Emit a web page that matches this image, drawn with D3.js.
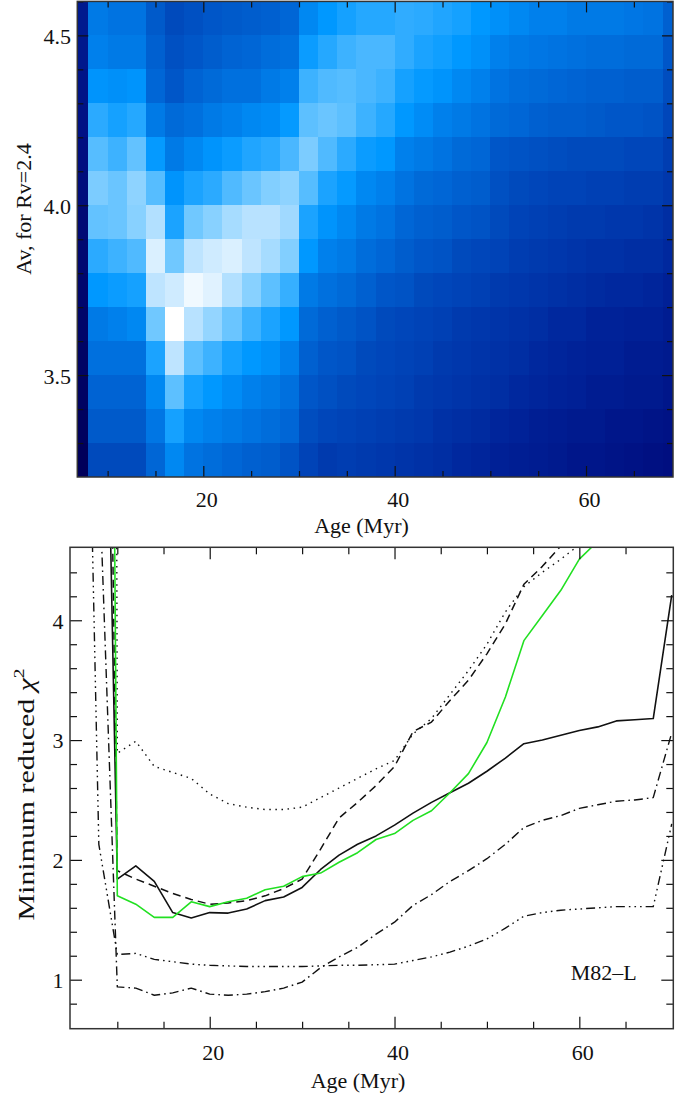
<!DOCTYPE html>
<html><head><meta charset="utf-8">
<script src="https://cdn.jsdelivr.net/npm/d3@7/dist/d3.min.js"></script>
<style>
body{margin:0;background:#fff}
svg{display:block}
text{font-family:"Liberation Serif","Times New Roman",serif;fill:#111}
</style>
</head><body>
<svg id="chart" width="684" height="1099"></svg>
<script>
// ---------------- DATA ----------------
// Top panel: age bin edges (Myr) and Av bin edges (top to bottom)
const heatAgeEdges = [6.83, 8, 10, 12, 14, 16, 18, 20, 22, 24, 26, 28, 30, 32, 34, 36, 38, 40,
  42, 44, 46, 48, 50, 52, 54, 56, 58, 60, 62, 64, 66, 68, 69.09];
const avEdges = [4.6, 4.5, 4.4, 4.3, 4.2, 4.1, 4.0, 3.9, 3.8, 3.7, 3.6, 3.5, 3.4, 3.3, 3.2];
// relative likelihood (0 = dark, 1 = white); one row per Av bin, top row first
const heatValues = [
  [0.16,0.48,0.46,0.46,0.38,0.33,0.35,0.37,0.38,0.39,0.40,0.42,0.52,0.56,0.60,0.63,0.63,0.65,0.64,0.62,0.60,0.56,0.54,0.52,0.50,0.50,0.48,0.48,0.48,0.47,0.46,0.40],
  [0.15,0.50,0.48,0.48,0.40,0.35,0.37,0.39,0.41,0.42,0.44,0.45,0.58,0.63,0.67,0.69,0.69,0.65,0.61,0.59,0.56,0.54,0.50,0.48,0.47,0.46,0.45,0.44,0.44,0.43,0.43,0.37],
  [0.13,0.55,0.54,0.55,0.42,0.37,0.41,0.43,0.45,0.45,0.48,0.50,0.67,0.70,0.71,0.69,0.67,0.60,0.57,0.55,0.52,0.50,0.46,0.44,0.43,0.42,0.41,0.40,0.40,0.39,0.39,0.34],
  [0.12,0.64,0.60,0.63,0.48,0.43,0.45,0.48,0.50,0.52,0.53,0.57,0.72,0.74,0.72,0.67,0.63,0.56,0.53,0.50,0.48,0.46,0.43,0.42,0.40,0.39,0.39,0.38,0.37,0.37,0.36,0.32],
  [0.10,0.71,0.67,0.73,0.57,0.48,0.52,0.55,0.58,0.62,0.64,0.69,0.77,0.70,0.64,0.58,0.56,0.50,0.48,0.46,0.43,0.42,0.37,0.36,0.35,0.34,0.33,0.33,0.33,0.32,0.32,0.29],
  [0.09,0.77,0.74,0.80,0.71,0.55,0.61,0.64,0.70,0.74,0.78,0.80,0.71,0.61,0.57,0.52,0.50,0.46,0.43,0.42,0.40,0.39,0.35,0.33,0.32,0.31,0.31,0.30,0.30,0.29,0.29,0.27],
  [0.07,0.73,0.74,0.79,0.86,0.61,0.75,0.79,0.84,0.87,0.87,0.83,0.61,0.55,0.52,0.48,0.46,0.42,0.40,0.39,0.37,0.36,0.33,0.31,0.30,0.29,0.28,0.28,0.27,0.27,0.26,0.24],
  [0.06,0.64,0.67,0.70,0.93,0.75,0.88,0.91,0.93,0.88,0.84,0.78,0.56,0.50,0.48,0.44,0.42,0.39,0.37,0.36,0.33,0.32,0.31,0.29,0.28,0.27,0.26,0.25,0.25,0.24,0.24,0.22],
  [0.05,0.56,0.58,0.60,0.88,0.91,0.97,0.94,0.86,0.79,0.72,0.66,0.48,0.45,0.43,0.40,0.37,0.36,0.33,0.32,0.31,0.30,0.28,0.27,0.26,0.25,0.24,0.23,0.22,0.22,0.21,0.19],
  [0.04,0.48,0.50,0.52,0.75,1.00,0.87,0.81,0.74,0.67,0.61,0.56,0.43,0.40,0.38,0.36,0.33,0.32,0.31,0.30,0.28,0.27,0.26,0.25,0.24,0.22,0.22,0.20,0.20,0.19,0.19,0.17],
  [0.03,0.45,0.45,0.45,0.61,0.88,0.72,0.67,0.60,0.56,0.54,0.50,0.40,0.37,0.36,0.33,0.32,0.31,0.30,0.28,0.27,0.26,0.25,0.24,0.22,0.21,0.20,0.19,0.19,0.17,0.17,0.16],
  [0.02,0.41,0.41,0.41,0.52,0.72,0.60,0.56,0.53,0.50,0.48,0.45,0.37,0.35,0.33,0.32,0.31,0.30,0.28,0.27,0.26,0.25,0.24,0.22,0.21,0.20,0.19,0.17,0.17,0.16,0.16,0.14],
  [0.01,0.38,0.38,0.38,0.47,0.60,0.52,0.50,0.48,0.46,0.44,0.42,0.34,0.32,0.31,0.30,0.29,0.28,0.27,0.25,0.24,0.23,0.21,0.20,0.18,0.17,0.16,0.16,0.14,0.14,0.13,0.12],
  [0.00,0.33,0.33,0.33,0.42,0.52,0.46,0.44,0.42,0.40,0.39,0.36,0.31,0.28,0.29,0.28,0.27,0.26,0.25,0.24,0.22,0.21,0.19,0.18,0.17,0.16,0.14,0.14,0.13,0.12,0.11,0.10]
];
const colorStops  = [0, 0.10, 0.20, 0.30, 0.40, 0.50, 0.56, 0.65, 0.75, 0.87, 0.94, 1.0];
const colorValues = ["rgb(0,0,90)","rgb(0,14,128)","rgb(0,34,152)","rgb(0,64,180)","rgb(0,96,208)",
  "rgb(0,128,236)","rgb(0,152,255)","rgb(48,172,255)","rgb(112,200,255)","rgb(184,226,255)",
  "rgb(224,242,255)","rgb(255,255,255)"];

// Bottom panel: minimum reduced chi^2 vs age
const chiAges = [6, 8, 10, 12, 14, 16, 18, 20, 22, 24, 26, 28, 30, 32, 34, 36, 38, 40, 42, 44, 46,
  48, 50, 52, 54, 56, 58, 60, 62, 64, 66, 68, 70];
const chiSolid = [null, 9.63, 1.84, 1.95, 1.82, 1.56, 1.515, 1.56, 1.556, 1.59, 1.66, 1.69, 1.77, 1.92,
  2.04, 2.13, 2.20, 2.29, 2.39, 2.48, 2.56, 2.64, 2.74, 2.85, 2.97, 3.00, 3.04, 3.08, 3.11, 3.16, 3.17, 3.18, 4.21];
const chiDashed = [null, 12.8, 1.91, 1.84, 1.78, 1.72, 1.67, 1.63, 1.64, 1.66, 1.70, 1.76, 1.84, 2.09,
  2.35, 2.48, 2.62, 2.78, 3.07, 3.15, 3.33, 3.50, 3.72, 3.97, 4.30, 4.45, 4.62, 4.80, null, null, null, null, null];
const chiDotted = [null, 60, 2.89, 2.99, 2.78, 2.73, 2.68, 2.55, 2.47, 2.44, 2.42, 2.42, 2.44, 2.52,
  2.60, 2.68, 2.76, 2.83, 3.05, 3.18, 3.38, 3.58, 3.80, 4.07, 4.28, 4.40, 4.51, 4.63, 4.80, null, null, null, null];
const chiGreen = [null, 22.5, 1.70, 1.63, 1.52, 1.52, 1.65, 1.61, 1.65, 1.68, 1.75, 1.78, 1.86, 1.89,
  1.98, 2.06, 2.17, 2.22, 2.33, 2.41, 2.56, 2.72, 2.98, 3.36, 3.83, 4.04, 4.25, 4.51, 4.66, null, null, null, null];
const chiDashDot = [null, 5.3, 0.94, 0.93, 0.87, 0.89, 0.93, 0.88, 0.87, 0.88, 0.90, 0.93, 0.98, 1.10,
  1.19, 1.27, 1.38, 1.48, 1.62, 1.71, 1.82, 1.91, 2.01, 2.13, 2.27, 2.33, 2.37, 2.43, 2.46, 2.49, 2.50, 2.52, 3.06];
const chiDashDot3 = [9.37, 2.13, 1.21, 1.22, 1.17, 1.15, 1.13, 1.12, 1.115, 1.11, 1.11, 1.11, 1.11, 1.115,
  1.12, 1.12, 1.125, 1.13, 1.16, 1.19, 1.23, 1.28, 1.34, 1.43, 1.53, 1.56, 1.58, 1.59, 1.60, 1.61, 1.61, 1.61, 2.30];

const ageMajorTicks = [20, 40, 60];
const ageMinorTicks = [10, 15, 25, 30, 35, 45, 50, 55, 65];
const avMajorTicks = [3.5, 4.0, 4.5];
const avMinorTicks = [3.3, 3.4, 3.6, 3.7, 3.8, 3.9, 4.1, 4.2, 4.3, 4.4, 4.6];
const chiMajorTicks = [1, 2, 3, 4];
const chiMinorTicks = [0.8, 1.2, 1.4, 1.6, 1.8, 2.2, 2.4, 2.6, 2.8, 3.2, 3.4, 3.6, 3.8, 4.2, 4.4];

// ---------------- DRAWING ----------------
const svg = d3.select("#chart");
const FS = 22;

// ---- top panel ----
const T = {l: 77.3, r: 673, t: 1.4, b: 477};
const xT = d3.scaleLinear().domain([6.83, 69.09]).range([T.l, T.r]);
const yT = d3.scaleLinear().domain([3.2, 4.6]).range([T.b, T.t]);
const color = d3.scaleLinear().domain(colorStops).range(colorValues).clamp(true);

const cells = [];
heatValues.forEach((row, r) => row.forEach((v, c) => cells.push({r, c, v})));
svg.append("g").selectAll("rect").data(cells).join("rect")
  .attr("x", d => xT(heatAgeEdges[d.c]))
  .attr("width", d => xT(heatAgeEdges[d.c + 1]) - xT(heatAgeEdges[d.c]) + 0.3)
  .attr("y", d => yT(avEdges[d.r]))
  .attr("height", d => yT(avEdges[d.r + 1]) - yT(avEdges[d.r]) + 0.3)
  .attr("fill", d => color(d.v))
  .attr("shape-rendering", "crispEdges");

function styleAxis(g) {
  g.select(".domain").remove();
  g.selectAll("line").attr("stroke", "#111").attr("stroke-width", 1.2);
  g.selectAll("text").attr("font-size", FS).attr("font-family", "Liberation Serif").attr("fill", "#111");
}

function frameAndTicks(xs, ys, box, xMaj, xMin, yMaj, yMin, opts) {
  svg.append("g").attr("transform", `translate(0,${box.b})`)
    .call(d3.axisBottom(xs).tickValues(xMaj).tickSize(-opts.maj).tickPadding(opts.xPad).tickFormat(d3.format("d")))
    .call(styleAxis).call(g => g.selectAll("text").attr("dx", 3));
  svg.append("g").attr("transform", `translate(0,${box.b})`)
    .call(d3.axisBottom(xs).tickValues(xMin).tickSize(-opts.min).tickFormat(""))
    .call(styleAxis);
  svg.append("g").attr("transform", `translate(0,${box.t})`)
    .call(d3.axisTop(xs).tickValues(xMaj).tickSize(-opts.maj).tickFormat(""))
    .call(styleAxis);
  svg.append("g").attr("transform", `translate(0,${box.t})`)
    .call(d3.axisTop(xs).tickValues(xMin).tickSize(-opts.min).tickFormat(""))
    .call(styleAxis);
  svg.append("g").attr("transform", `translate(${box.l},0)`)
    .call(d3.axisLeft(ys).tickValues(yMaj).tickSize(-opts.maj).tickPadding(opts.yPad).tickFormat(opts.yFmt))
    .call(styleAxis).call(g => g.selectAll("text").attr("dy", opts.yDy));
  svg.append("g").attr("transform", `translate(${box.l},0)`)
    .call(d3.axisLeft(ys).tickValues(yMin).tickSize(-opts.min).tickFormat(""))
    .call(styleAxis);
  svg.append("g").attr("transform", `translate(${box.r},0)`)
    .call(d3.axisRight(ys).tickValues(yMaj).tickSize(-opts.maj).tickFormat(""))
    .call(styleAxis);
  svg.append("g").attr("transform", `translate(${box.r},0)`)
    .call(d3.axisRight(ys).tickValues(yMin).tickSize(-opts.min).tickFormat(""))
    .call(styleAxis);
  svg.append("rect").attr("x", box.l).attr("y", box.t)
    .attr("width", box.r - box.l).attr("height", box.b - box.t)
    .attr("fill", "none").attr("stroke", "#333").attr("stroke-width", 1.5);
}

frameAndTicks(xT, yT, T, ageMajorTicks, ageMinorTicks, avMajorTicks, avMinorTicks,
  {maj: 11, min: 6, xPad: 14, yPad: 6.3, yDy: "0.39em", yFmt: d3.format(".1f")});

svg.append("text").attr("x", 361.5).attr("y", 533).attr("text-anchor", "middle")
  .attr("font-size", FS).text("Age (Myr)");
svg.append("text").attr("transform", "translate(31,209) rotate(-90)").attr("text-anchor", "middle")
  .attr("font-size", FS).text("Av, for Rv=2.4");

// ---- bottom panel ----
const B = {l: 70, r: 673.3, t: 547.3, b: 1028.7};
const xB = d3.scaleLinear().domain([4.88, 70.17]).range([B.l, B.r]);
const yB = d3.scaleLinear().domain([0.591, 4.609]).range([B.b, B.t]);

svg.append("defs").append("clipPath").attr("id", "clipB").append("rect")
  .attr("x", B.l).attr("y", B.t).attr("width", B.r - B.l).attr("height", B.b - B.t);

const lineGen = d3.line().defined(d => d[1] != null).x(d => xB(d[0])).y(d => yB(d[1]));
const series = [
  {vals: chiDotted,   stroke: "#111",    dash: "1.5,4.6", w: 1.4},
  {vals: chiDashDot3, stroke: "#111",    dash: "9,4,1.6,4,1.6,4,1.6,4", w: 1.4},
  {vals: chiDashDot,  stroke: "#111",    dash: "9,4,1.6,4", w: 1.4},
  {vals: chiDashed,   stroke: "#111",    dash: "8,5", w: 1.5},
  {vals: chiSolid,    stroke: "#111",    dash: null, w: 1.6},
  {vals: chiGreen,    stroke: "#22e022", dash: null, w: 1.6}
];
const gLines = svg.append("g").attr("clip-path", "url(#clipB)");
series.forEach(s => {
  gLines.append("path")
    .datum(chiAges.map((a, i) => [a, s.vals[i]]))
    .attr("d", lineGen)
    .attr("fill", "none")
    .attr("stroke", s.stroke)
    .attr("stroke-width", s.w)
    .attr("stroke-dasharray", s.dash)
    .attr("stroke-linejoin", "round");
});

frameAndTicks(xB, yB, B, ageMajorTicks, ageMinorTicks, chiMajorTicks, chiMinorTicks,
  {maj: 12, min: 7, xPad: 15.7, yPad: 6.5, yDy: "0.36em", yFmt: d3.format("d")});

svg.append("text").attr("x", 358).attr("y", 1088).attr("text-anchor", "middle")
  .attr("font-size", FS).text("Age (Myr)");
const yl = svg.append("text").attr("transform", "translate(34,794.5) rotate(-90)")
  .attr("text-anchor", "middle").attr("font-size", 23)
  .attr("textLength", 252).attr("lengthAdjust", "spacingAndGlyphs");
yl.append("tspan").text("Minimum reduced ");
yl.append("tspan").attr("font-style", "italic").text("χ");
yl.append("tspan").attr("font-size", 15).attr("dy", -10).text("2");

svg.append("text").attr("x", 570.7).attr("y", 980).attr("font-size", FS).text("M82–L");
</script>
</body></html>
